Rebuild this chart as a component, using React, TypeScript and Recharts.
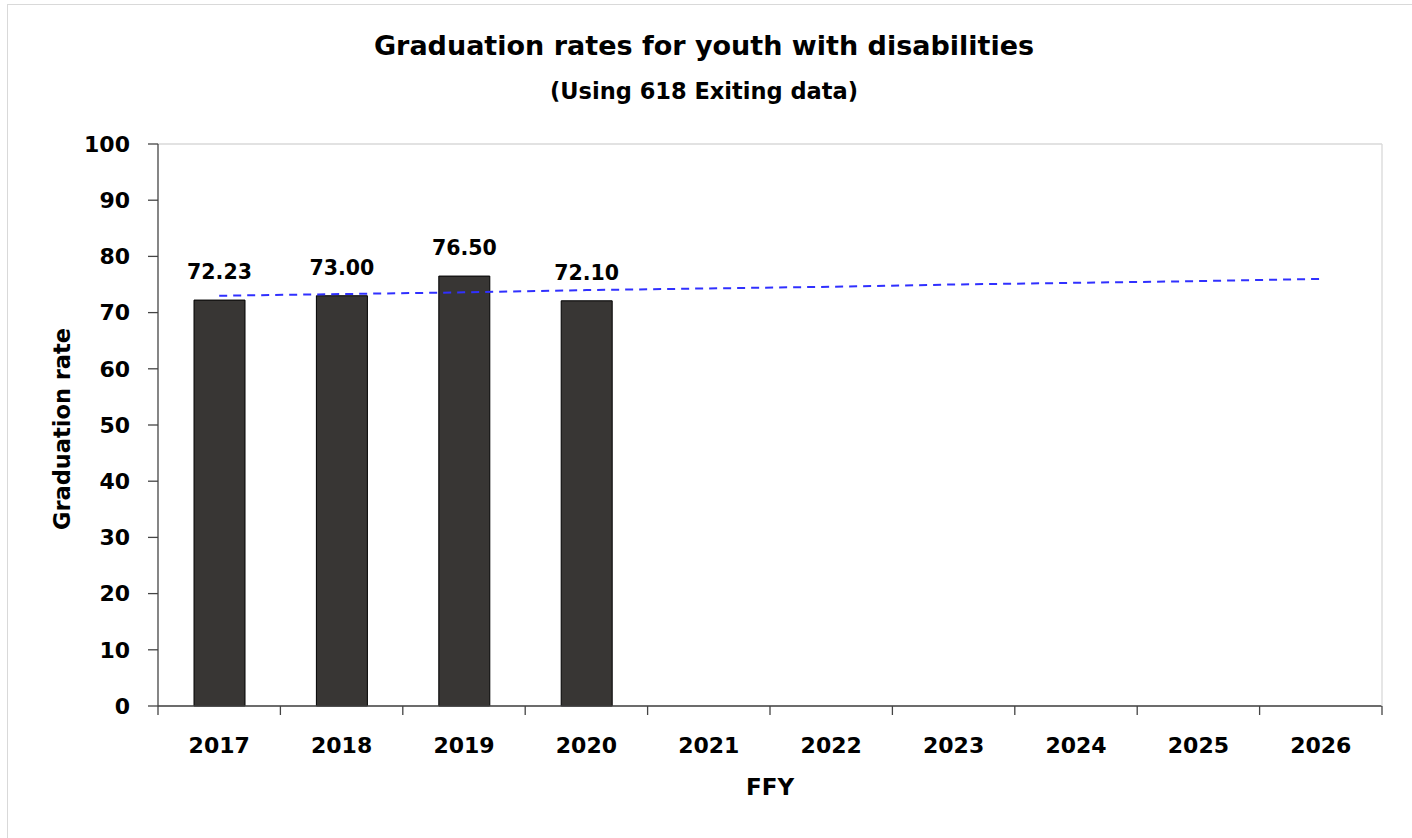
import React from 'react';
import { ComposedChart, Bar, Line, XAxis, YAxis, CartesianGrid, LabelList } from 'recharts';

const years = ['2017', '2018', '2019', '2020', '2021', '2022', '2023', '2024', '2025', '2026'];
const gradRates: (number | null)[] = [72.23, 73.0, 76.5, 72.1, null, null, null, null, null, null];
const targetLine = [73.0, 73.3, 73.6, 74.0, 74.3, 74.6, 75.0, 75.3, 75.6, 76.0];
const yTicks = [0, 10, 20, 30, 40, 50, 60, 70, 80, 90, 100];

const data = years.map((y, i) => ({ year: y, rate: gradRates[i], target: targetLine[i] }));

const W = 1412;
const H = 838;
const M = { top: 144, right: 29, bottom: 0, left: 0 };
const Y_W = 158;
const R_W = 1;
const PLOT_W = W - M.left - M.right - Y_W - R_W;
const BAND = PLOT_W / years.length;
const FONT = '"DejaVu Sans", sans-serif';

const XTick = (props: any) => {
  const { x, y, payload, index } = props;
  const half = BAND / 2;
  return (
    <g>
      <line x1={x - half} y1={y} x2={x - half} y2={y + 9} stroke="#444" strokeWidth={1.3} />
      {index === years.length - 1 && (
        <line x1={x + half} y1={y} x2={x + half} y2={y + 9} stroke="#444" strokeWidth={1.3} />
      )}
      <text x={x} y={y + 47} textAnchor="middle" fontFamily={FONT} fontWeight="bold" fontSize={22} fill="#000">
        {payload.value}
      </text>
    </g>
  );
};

export default function App() {
  return (
    <div style={{ position: 'absolute', left: 0, top: 0, width: W, height: H, background: '#fff', overflow: 'hidden' }}>
      <div style={{ position: 'absolute', left: 7, top: 4, width: 1410, height: 840, border: '1px solid #d9d9d9', boxSizing: 'border-box' }} />
      <div style={{ position: 'absolute', left: 0, top: 30, width: W - 4, textAlign: 'center', fontFamily: FONT, fontWeight: 'bold', fontSize: 27, color: '#000' }}>
        Graduation rates for youth with disabilities
      </div>
      <div style={{ position: 'absolute', left: 0, top: 78, width: W - 4, textAlign: 'center', fontFamily: FONT, fontWeight: 'bold', fontSize: 22.5, color: '#000' }}>
        (Using 618 Exiting data)
      </div>
      <div style={{ position: 'absolute', left: 0, top: 774, width: 1540, textAlign: 'center', fontFamily: FONT, fontWeight: 'bold', fontSize: 23, color: '#000' }}>
        FFY
      </div>
      <div style={{ position: 'absolute', left: 62, top: 430, width: 0, height: 0 }}>
        <div style={{ position: 'absolute', left: -150, top: -14, width: 300, textAlign: 'center', transform: 'rotate(-90deg)', fontFamily: FONT, fontWeight: 'bold', fontSize: 22.5, color: '#000', whiteSpace: 'nowrap' }}>
          Graduation rate
        </div>
      </div>
      <div style={{ position: 'absolute', left: 0, top: 0 }}>
        <ComposedChart width={W} height={H} data={data} margin={M} barCategoryGap={0}>
          <CartesianGrid horizontal vertical={false} stroke="#d9d9d9" strokeWidth={1.3} />
          <XAxis
            dataKey="year"
            height={132}
            tickSize={0}
            tickMargin={0}
            tickLine={false}
            axisLine={{ stroke: '#444', strokeWidth: 1.3 }}
            tick={<XTick />}
            interval={0}
          />
          <YAxis
            yAxisId="l"
            width={Y_W}
            domain={[0, 100]}
            ticks={yTicks}
            interval={0}
            tickSize={10}
            tickMargin={18}
            axisLine={{ stroke: '#444', strokeWidth: 1.3 }}
            tickLine={{ stroke: '#444', strokeWidth: 1.3 }}
            tick={{ fontFamily: FONT, fontWeight: 'bold', fontSize: 22, fill: '#000' }}
          />
          <YAxis
            yAxisId="r"
            orientation="right"
            width={R_W}
            domain={[0, 100]}
            ticks={yTicks}
            tick={false}
            tickLine={false}
            axisLine={{ stroke: '#d9d9d9', strokeWidth: 1.3 }}
          />
          <Bar yAxisId="l" dataKey="rate" fill="#383634" stroke="#000" strokeWidth={1} barSize={51} isAnimationActive={false}>
            <LabelList
              dataKey="rate"
              position="top"
              offset={21}
              formatter={(v: any) => (v == null ? '' : Number(v).toFixed(2))}
              style={{ fontFamily: FONT, fontWeight: 'bold', fontSize: 20.5, fill: '#000' }}
            />
          </Bar>
          <Line
            yAxisId="l"
            dataKey="target"
            stroke="#3030ff"
            strokeWidth={2}
            strokeDasharray="8 6"
            dot={false}
            activeDot={false}
            isAnimationActive={false}
          />
        </ComposedChart>
      </div>
    </div>
  );
}
